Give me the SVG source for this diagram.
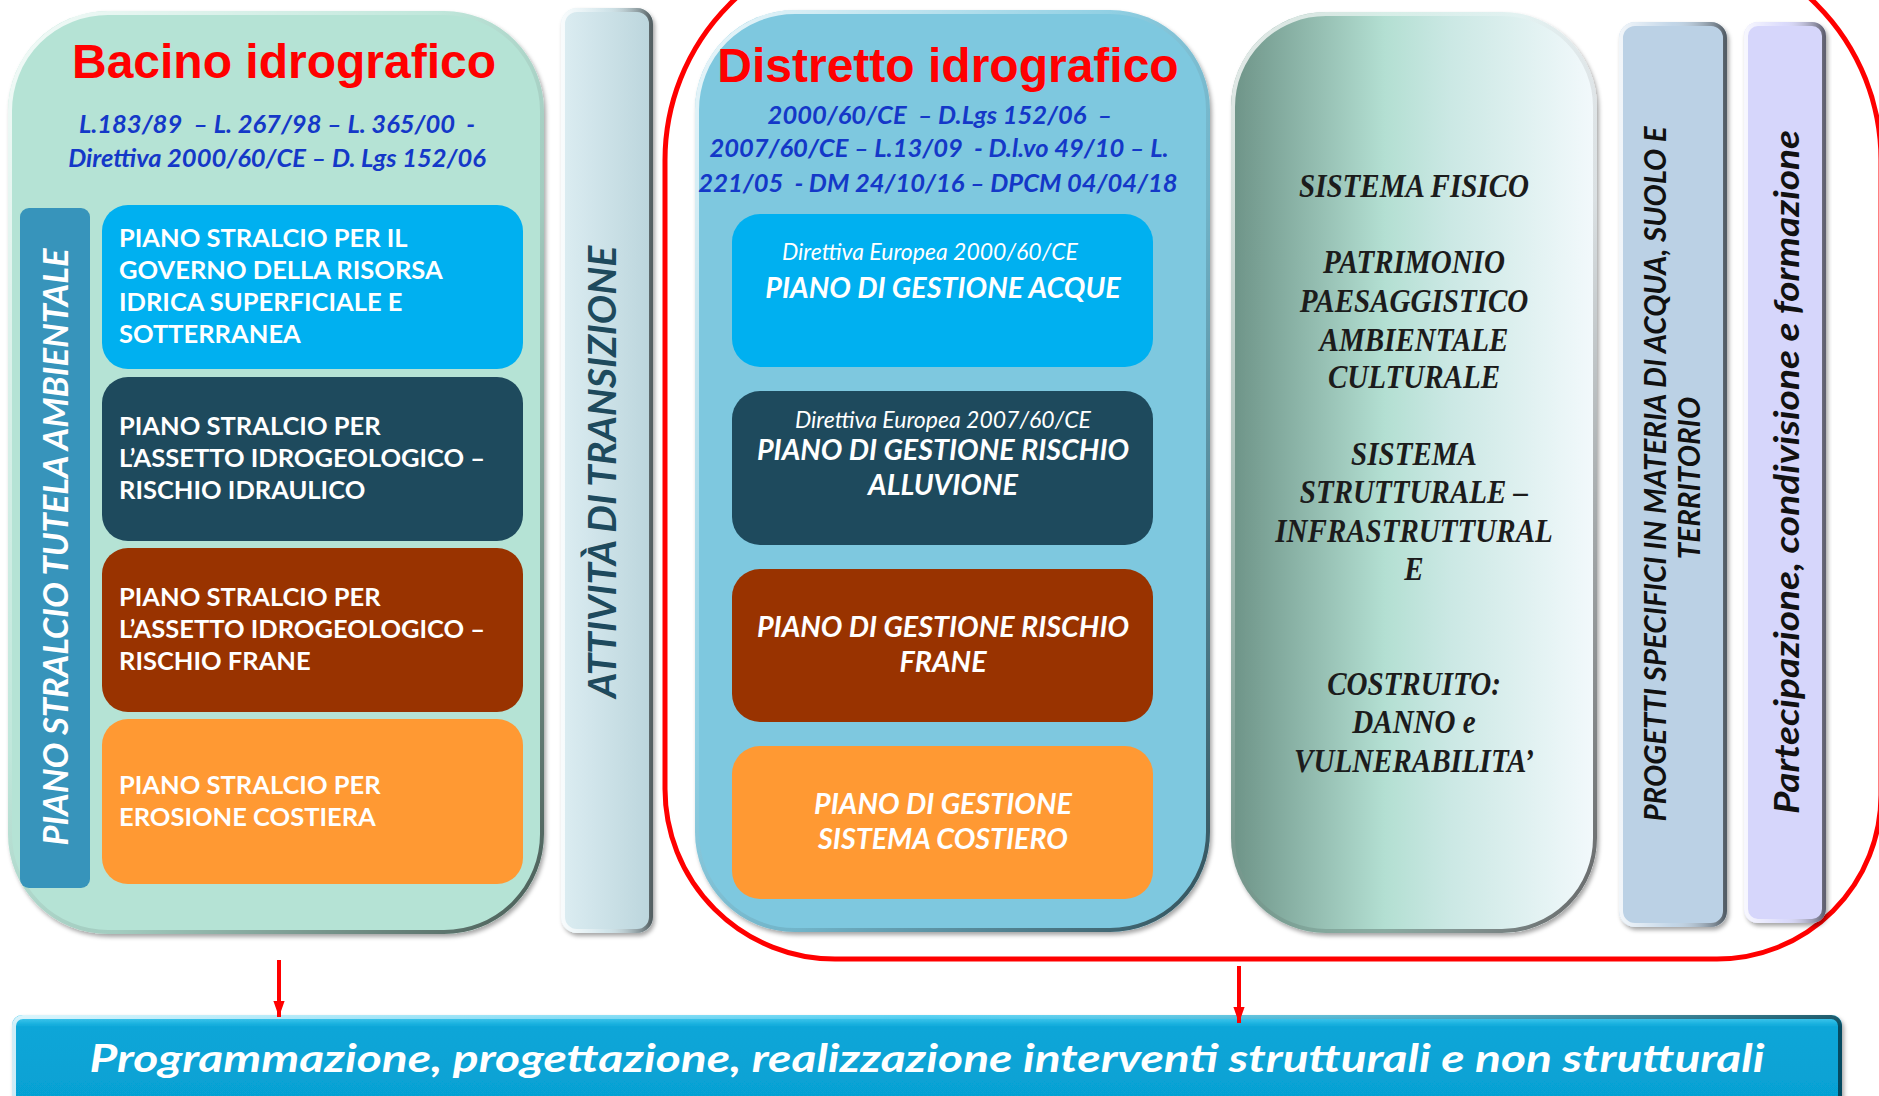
<svg xmlns="http://www.w3.org/2000/svg" width="1879" height="1096" viewBox="0 0 1879 1096">
<defs>
  <filter id="sh" x="-5%" y="-5%" width="112%" height="110%">
    <feDropShadow dx="2" dy="3" stdDeviation="2" flood-color="#000" flood-opacity="0.35"/>
  </filter>
  <linearGradient id="bev" x1="0" y1="0" x2="1" y2="1">
    <stop offset="0" stop-color="#fff" stop-opacity="0.85"/>
    <stop offset="0.4" stop-color="#fff" stop-opacity="0.15"/>
    <stop offset="0.6" stop-color="#000" stop-opacity="0.1"/>
    <stop offset="1" stop-color="#000" stop-opacity="0.6"/>
  </linearGradient>
  <linearGradient id="bevH" x1="0" y1="0" x2="1" y2="0">
    <stop offset="0" stop-color="#fff" stop-opacity="0.8"/>
    <stop offset="0.5" stop-color="#fff" stop-opacity="0.1"/>
    <stop offset="1" stop-color="#000" stop-opacity="0.55"/>
  </linearGradient>
  <linearGradient id="sisG" x1="0" y1="0" x2="1" y2="0">
    <stop offset="0" stop-color="#6D9387"/>
    <stop offset="0.42" stop-color="#B3DFD2"/>
    <stop offset="0.6" stop-color="#CBE8E4"/>
    <stop offset="1" stop-color="#F3F9FC"/>
  </linearGradient>
  <linearGradient id="traG" x1="0" y1="0" x2="1" y2="0">
    <stop offset="0" stop-color="#DCEDF2"/>
    <stop offset="1" stop-color="#BBD5DC"/>
  </linearGradient>
  <linearGradient id="barG" x1="0" y1="0" x2="0" y2="1">
    <stop offset="0" stop-color="#4FD0F3"/>
    <stop offset="0.12" stop-color="#0AA6D8"/>
    <stop offset="1" stop-color="#05A0D2"/>
  </linearGradient>
  <marker id="ah" viewBox="0 0 10 10" refX="10" refY="5" markerWidth="4" markerHeight="4" orient="auto" markerUnits="strokeWidth">
    <path d="M0,1.5 L10,5 L0,8.5 z" fill="#FF0000"/>
  </marker>
  <style>
    .title{font-family:"Liberation Sans",Arial,sans-serif;font-weight:bold;font-size:48px;fill:#FF0000;text-anchor:middle}
    .sub{font-family:Lato,"Open Sans",sans-serif;font-weight:bold;font-style:italic;font-size:25.5px;fill:#1438C8;text-anchor:middle;white-space:pre}
    .box{font-family:Lato,"Open Sans",sans-serif;font-weight:bold;font-size:25.5px;fill:#FFFFFF}
    .plan{font-family:Lato,"Open Sans",sans-serif;font-weight:bold;font-style:italic;font-size:28.7px;fill:#FFFFFF;text-anchor:middle}
    .dir{font-family:Lato,"Open Sans",sans-serif;font-style:italic;font-size:23px;fill:#FFFFFF;text-anchor:middle}
    .sis{font-family:"Liberation Serif","Times New Roman",serif;font-weight:bold;font-style:italic;font-size:33px;fill:#1C1C1C;text-anchor:middle}
    .vert{font-family:Lato,"Open Sans",sans-serif;font-weight:bold;font-style:italic;text-anchor:middle}
    .bevel{fill:none;stroke:url(#bev);stroke-width:4}
    .bevelH{fill:none;stroke:url(#bevH);stroke-width:4}
    .c-light{fill:#00B0F0}
    .c-dark{fill:#1E4A5D}
    .c-brown{fill:#993300}
    .c-orange{fill:#FF9933}
    .conn{stroke:#FF0000;stroke-width:4;fill:none}
  </style>
</defs>

<rect width="1879" height="1096" fill="#FFFFFF"/>

<!-- red frame around distretto -->
<g id="frame-distretto">
  <path d="M665,160 A220,220 0 0 1 885,-60 L1661,-60 A220,220 0 0 1 1881,160 L1881,795 A164,164 0 0 1 1717,959 L835,959 A170,170 0 0 1 665,789 Z" fill="none" stroke="#FF0000" stroke-width="5"/>
</g>

<!-- Bacino idrografico -->
<g id="node-bacino">
  <rect x="8" y="11" width="536" height="923" rx="100" fill="#B5E3D5" filter="url(#sh)"/>
  <rect x="10" y="13" width="532" height="919" rx="98" class="bevel"/>
  <text class="title" x="284" y="78">Bacino idrografico</text>
  <text class="sub" x="277" y="133">L.183/89  – L. 267/98 – L. 365/00  -</text>
  <text class="sub" x="277" y="167">Direttiva 2000/60/CE – D. Lgs 152/06</text>
  <g id="node-tutela">
    <rect x="20" y="208" width="70" height="680" rx="9" fill="#3794BB"/>
    <text class="vert" font-size="34.5" fill="#FFFFFF" transform="translate(68,547) rotate(-90)">PIANO STRALCIO TUTELA AMBIENTALE</text>
  </g>
  <g id="node-governo">
    <rect x="102" y="205" width="421" height="164" rx="26" class="c-light"/>
    <text class="box" x="119" y="247">PIANO STRALCIO PER IL</text>
    <text class="box" x="119" y="279">GOVERNO DELLA RISORSA</text>
    <text class="box" x="119" y="311">IDRICA SUPERFICIALE E</text>
    <text class="box" x="119" y="343">SOTTERRANEA</text>
  </g>
  <g id="node-idraulico">
    <rect x="102" y="377" width="421" height="164" rx="26" class="c-dark"/>
    <text class="box" x="119" y="435">PIANO STRALCIO PER</text>
    <text class="box" x="119" y="467">L’ASSETTO IDROGEOLOGICO –</text>
    <text class="box" x="119" y="499">RISCHIO IDRAULICO</text>
  </g>
  <g id="node-frane">
    <rect x="102" y="548" width="421" height="164" rx="26" class="c-brown"/>
    <text class="box" x="119" y="606">PIANO STRALCIO PER</text>
    <text class="box" x="119" y="638">L’ASSETTO IDROGEOLOGICO –</text>
    <text class="box" x="119" y="670">RISCHIO FRANE</text>
  </g>
  <g id="node-erosione">
    <rect x="102" y="719" width="421" height="165" rx="26" class="c-orange"/>
    <text class="box" x="119" y="794">PIANO STRALCIO PER</text>
    <text class="box" x="119" y="826">EROSIONE COSTIERA</text>
  </g>
</g>

<!-- Attività di transizione -->
<g id="node-transizione">
  <rect x="561" y="8" width="92" height="925" rx="16" fill="url(#traG)" filter="url(#sh)"/>
  <rect x="563" y="10" width="88" height="921" rx="14" class="bevelH"/>
  <text class="vert" font-size="39" fill="#1E4A5D" transform="translate(616,472) rotate(-90)">ATTIVITÀ DI TRANSIZIONE</text>
</g>

<!-- Distretto idrografico -->
<g id="node-distretto">
  <rect x="695" y="10" width="515" height="922" rx="100" fill="#7EC8DF" filter="url(#sh)"/>
  <rect x="697" y="12" width="511" height="918" rx="98" class="bevel"/>
  <text class="title" x="948" y="82">Distretto idrografico</text>
  <text class="sub" x="940" y="124">2000/60/CE  – D.Lgs 152/06  –</text>
  <text class="sub" x="939" y="157">2007/60/CE – L.13/09  - D.l.vo 49/10 – L.</text>
  <text class="sub" x="938" y="192">221/05  - DM 24/10/16 – DPCM 04/04/18</text>
  <g id="node-acque">
    <rect x="732" y="214" width="421" height="153" rx="28" class="c-light"/>
    <text class="dir" x="930" y="260">Direttiva Europea 2000/60/CE</text>
    <text class="plan" x="943" y="298">PIANO DI GESTIONE ACQUE</text>
  </g>
  <g id="node-alluvione">
    <rect x="732" y="391" width="421" height="154" rx="28" class="c-dark"/>
    <text class="dir" x="943" y="428">Direttiva Europea 2007/60/CE</text>
    <text class="plan" x="943" y="460">PIANO DI GESTIONE RISCHIO</text>
    <text class="plan" x="943" y="495">ALLUVIONE</text>
  </g>
  <g id="node-rischio-frane">
    <rect x="732" y="569" width="421" height="153" rx="28" class="c-brown"/>
    <text class="plan" x="943" y="637">PIANO DI GESTIONE RISCHIO</text>
    <text class="plan" x="943" y="672">FRANE</text>
  </g>
  <g id="node-costiero">
    <rect x="732" y="746" width="421" height="153" rx="28" class="c-orange"/>
    <text class="plan" x="943" y="814">PIANO DI GESTIONE</text>
    <text class="plan" x="943" y="849">SISTEMA COSTIERO</text>
  </g>
</g>

<!-- Sistema fisico -->
<g id="node-sistema">
  <rect x="1231" y="12" width="366" height="921" rx="95" fill="url(#sisG)" filter="url(#sh)"/>
  <rect x="1233" y="14" width="362" height="917" rx="93" class="bevel"/>
  <g transform="translate(1414,0) scale(0.88,1)">
    <text class="sis" x="0" y="197">SISTEMA FISICO</text>
    <text class="sis" x="0" y="273">PATRIMONIO</text>
    <text class="sis" x="0" y="312">PAESAGGISTICO</text>
    <text class="sis" x="0" y="351">AMBIENTALE</text>
    <text class="sis" x="0" y="388">CULTURALE</text>
    <text class="sis" x="0" y="465">SISTEMA</text>
    <text class="sis" x="0" y="503">STRUTTURALE –</text>
    <text class="sis" x="0" y="542">INFRASTRUTTURAL</text>
    <text class="sis" x="0" y="580">E</text>
    <text class="sis" x="0" y="695">COSTRUITO:</text>
    <text class="sis" x="0" y="733">DANNO e</text>
    <text class="sis" x="0" y="772">VULNERABILITA’</text>
  </g>
</g>

<!-- Progetti specifici -->
<g id="node-progetti">
  <rect x="1619" y="22" width="108" height="905" rx="16" fill="#BBD1E5" filter="url(#sh)"/>
  <rect x="1621" y="24" width="104" height="901" rx="14" class="bevelH"/>
  <text class="vert" font-size="29.5" fill="#111111" transform="translate(1666,474) rotate(-90)">PROGETTI SPECIFICI IN MATERIA DI ACQUA, SUOLO E</text>
  <text class="vert" font-size="29.5" fill="#111111" transform="translate(1700,478) rotate(-90)">TERRITORIO</text>
</g>

<!-- Partecipazione -->
<g id="node-partecipazione">
  <rect x="1744" y="22" width="82" height="901" rx="14" fill="#D6D6FB" filter="url(#sh)"/>
  <rect x="1746" y="24" width="78" height="897" rx="12" class="bevelH"/>
  <text class="vert" font-size="35" fill="#111111" textLength="684" lengthAdjust="spacingAndGlyphs" transform="translate(1799,472) rotate(-90)">Partecipazione, condivisione e formazione</text>
</g>

<!-- Programmazione bar -->
<g id="node-programmazione">
  <rect x="12" y="1015" width="1830" height="100" rx="10" fill="url(#barG)" filter="url(#sh)"/>
  <rect x="14" y="1017" width="1826" height="96" rx="9" class="bevelH" stroke-width="3"/>
  <text x="927" y="1072" font-family="Lato,'Open Sans',sans-serif" font-weight="bold" font-style="italic" font-size="39" fill="#FFFFFF" text-anchor="middle" textLength="1675" lengthAdjust="spacingAndGlyphs">Programmazione, progettazione, realizzazione interventi strutturali e non strutturali</text>
</g>

<!-- connectors -->
<g id="connectors">
  <line class="conn" x1="279" y1="960" x2="279" y2="1017" marker-end="url(#ah)"/>
  <line class="conn" x1="1239" y1="966" x2="1239" y2="1023" marker-end="url(#ah)"/>
</g>
</svg>
